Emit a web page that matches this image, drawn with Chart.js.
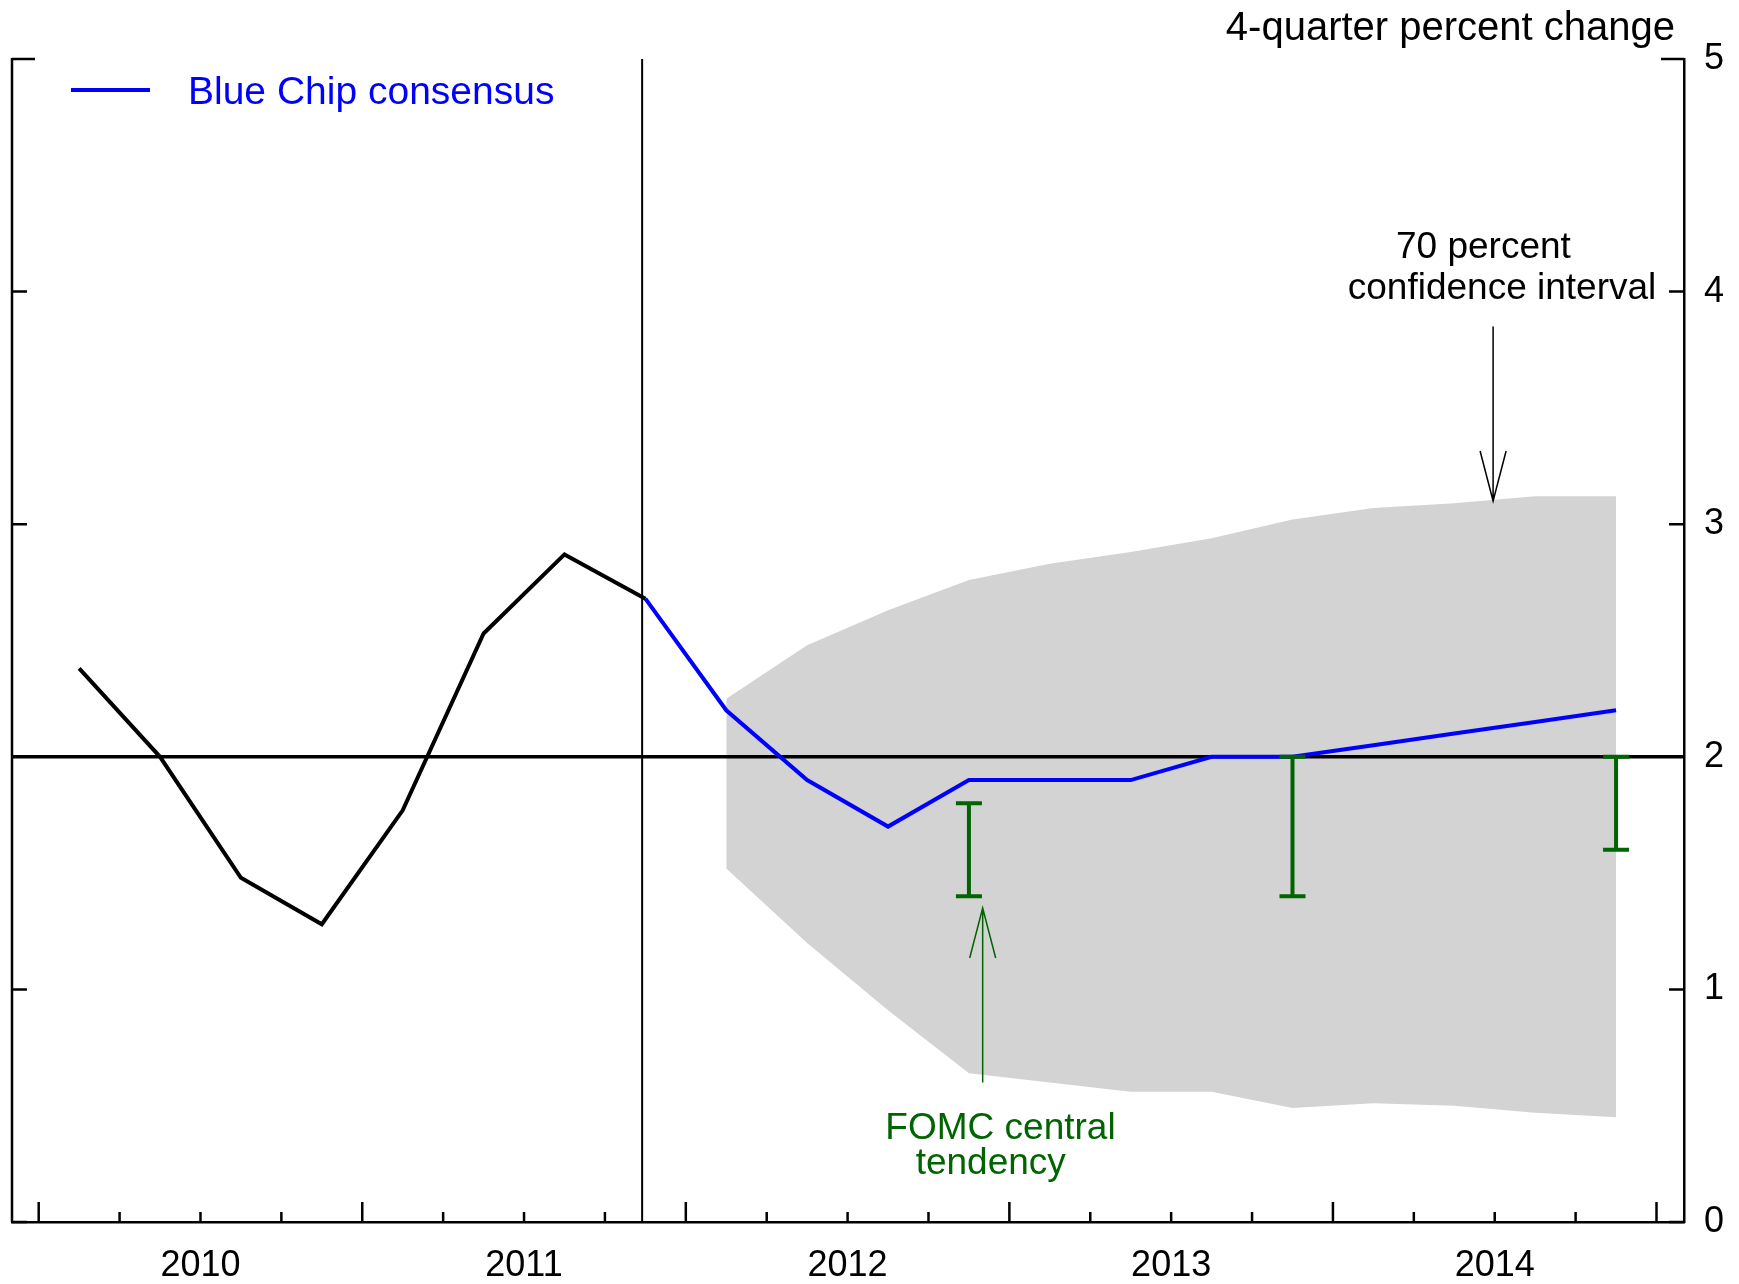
<!DOCTYPE html>
<html>
<head>
<meta charset="utf-8">
<script src="https://cdn.jsdelivr.net/npm/chart.js@4.4.0/dist/chart.umd.min.js"></script>
<style>
  html, body { margin: 0; padding: 0; background: #fff; }
</style>
</head>
<body>
<canvas id="chart" width="1739" height="1284"></canvas>
<script>
// x is a quarter index: 0 = 2010Q1 ... 19 = 2014Q4
const years = ['2010', '2011', '2012', '2013', '2014']
const yearMid = [1.5, 5.5, 9.5, 13.5, 17.5]
const yTicks = [0, 1, 2, 3, 4, 5]
const xMin = -0.83
const xMax = 19.84

const actualQ = [0, 1, 2, 3, 4, 5, 6, 7]
const actual = [2.38, 2.0, 1.48, 1.28, 1.77, 2.53, 2.87, 2.68]

const blueChipQ = [7, 8, 9, 10, 11, 12, 13, 14, 15, 16, 17, 18, 19]
const blueChip = [2.68, 2.20, 1.90, 1.70, 1.90, 1.90, 1.90, 2.0, 2.0, 2.05, 2.10, 2.15, 2.20]

const bandQ = [8, 9, 10, 11, 12, 13, 14, 15, 16, 17, 18, 19]
const bandHigh = [2.25, 2.48, 2.63, 2.76, 2.83, 2.88, 2.94, 3.02, 3.07, 3.09, 3.12, 3.12]
const bandLow = [1.52, 1.20, 0.91, 0.64, 0.60, 0.56, 0.56, 0.49, 0.51, 0.50, 0.47, 0.45]

const fomcQ = [11, 15, 19]
const fomcLow = [1.4, 1.4, 1.6]
const fomcHigh = [1.8, 2.0, 2.0]

const refLevel = 2
const breakQ = 6.96

const FONT = '"Liberation Sans", Arial, sans-serif'
const GREEN = '#006400'
const BLUE = '#0000ff'

const pts = (xs, ys) => xs.map((q, i) => ({x: q, y: ys[i]}))

function arrow(ctx, x0, y0, x1, y1) {
  const dir = y1 > y0 ? 1 : -1
  ctx.beginPath()
  ctx.moveTo(x0, y0); ctx.lineTo(x1, y1)
  ctx.moveTo(x1 - 13, y1 - dir * 50); ctx.lineTo(x1, y1); ctx.lineTo(x1 + 13, y1 - dir * 50)
  ctx.stroke()
}

const frame = {
  id: 'frame',
  afterDatasetsDraw(chart) {
    const {ctx, chartArea: a, scales: {x, y}} = chart
    ctx.save()
    ctx.strokeStyle = '#000'
    ctx.lineWidth = 2.5
    ctx.beginPath()
    ctx.moveTo(a.left, a.top - 1); ctx.lineTo(a.left, a.bottom)
    ctx.stroke()

    // inward ticks on both y sides
    yTicks.forEach(v => {
      const py = y.getPixelForValue(v)
      const len = v === 5 ? 23 : 15
      ctx.beginPath()
      ctx.moveTo(a.left, py); ctx.lineTo(a.left + len, py)
      ctx.moveTo(a.right, py); ctx.lineTo(a.right - len, py)
      ctx.stroke()
    })

    // quarter ticks, long at year boundaries
    for (let k = 0; k <= 20; k++) {
      const px = x.getPixelForValue(k - 0.5)
      const len = k % 4 === 0 ? 20 : 10
      ctx.beginPath()
      ctx.moveTo(px, a.bottom); ctx.lineTo(px, a.bottom - len)
      ctx.stroke()
    }

    // FOMC central tendency bars
    ctx.strokeStyle = GREEN
    ctx.lineWidth = 4
    fomcQ.forEach((q, i) => {
      const px = x.getPixelForValue(q)
      const lo = y.getPixelForValue(fomcLow[i])
      const hi = y.getPixelForValue(fomcHigh[i])
      ctx.beginPath()
      ctx.moveTo(px, lo); ctx.lineTo(px, hi)
      ctx.moveTo(px - 13, lo); ctx.lineTo(px + 13, lo)
      ctx.moveTo(px - 13, hi); ctx.lineTo(px + 13, hi)
      ctx.stroke()
    })

    // annotations
    ctx.lineWidth = 1.5
    ctx.strokeStyle = GREEN
    arrow(ctx, x.getPixelForValue(11.17), y.getPixelForValue(0.60), x.getPixelForValue(11.17), y.getPixelForValue(1.35))
    ctx.strokeStyle = '#000'
    arrow(ctx, x.getPixelForValue(17.48), y.getPixelForValue(3.85), x.getPixelForValue(17.48), y.getPixelForValue(3.10))

    ctx.textAlign = 'center'
    ctx.textBaseline = 'middle'
    ctx.font = '37px ' + FONT
    ctx.fillStyle = '#000'
    ctx.fillText('70 percent', x.getPixelForValue(17.36), y.getPixelForValue(4.19))
    ctx.fillText('confidence interval', x.getPixelForValue(17.59), y.getPixelForValue(4.01))
    ctx.fillStyle = GREEN
    ctx.fillText('FOMC central', x.getPixelForValue(11.39), y.getPixelForValue(0.40))
    ctx.fillText('tendency', x.getPixelForValue(11.27), y.getPixelForValue(0.25))

    // unit title
    ctx.fillStyle = '#000'
    ctx.font = '40px ' + FONT
    ctx.textAlign = 'right'
    ctx.textBaseline = 'alphabetic'
    ctx.fillText('4-quarter percent change', a.right - 9, a.top - 19)

    // legend
    ctx.strokeStyle = BLUE
    ctx.lineWidth = 4
    ctx.beginPath()
    ctx.moveTo(a.left + 59, a.top + 31); ctx.lineTo(a.left + 138, a.top + 31)
    ctx.stroke()
    ctx.fillStyle = BLUE
    ctx.font = '39px ' + FONT
    ctx.textAlign = 'left'
    ctx.textBaseline = 'middle'
    ctx.fillText('Blue Chip consensus', a.left + 176, a.top + 34)
    ctx.restore()
  }
}

new Chart(document.getElementById('chart'), {
  type: 'line',
  data: {
    datasets: [
      {data: pts(bandQ, bandHigh), fill: '+1', backgroundColor: '#d3d3d3', borderColor: 'rgba(0,0,0,0)', borderWidth: 0, pointRadius: 0, order: 10},
      {data: pts(bandQ, bandLow), fill: false, borderColor: 'rgba(0,0,0,0)', borderWidth: 0, pointRadius: 0, order: 11},
      {data: [{x: xMin, y: refLevel}, {x: xMax, y: refLevel}], borderColor: '#000', borderWidth: 3.5, pointRadius: 0, order: 5},
      {data: [{x: breakQ, y: 0}, {x: breakQ, y: 5}], borderColor: '#000', borderWidth: 2, pointRadius: 0, order: 4},
      {data: pts(actualQ, actual), borderColor: '#000', borderWidth: 4, pointRadius: 0, order: 2},
      {data: pts(blueChipQ, blueChip), borderColor: BLUE, borderWidth: 4, pointRadius: 0, order: 1}
    ]
  },
  options: {
    responsive: false,
    devicePixelRatio: 1,
    animation: false,
    layout: {padding: {left: 12, top: 59, right: 0, bottom: 0}},
    plugins: {legend: {display: false}, tooltip: {enabled: false}},
    scales: {
      x: {
        type: 'linear', min: xMin, max: xMax,
        grid: {display: false, drawTicks: false},
        border: {display: true, color: '#000', width: 2.5},
        afterBuildTicks: s => { s.ticks = yearMid.map(v => ({value: v})) },
        ticks: {
          autoSkip: false, maxRotation: 0, padding: 22, color: '#000',
          font: {family: FONT, size: 36},
          callback: v => years[yearMid.indexOf(v)]
        },
        afterFit: s => { s.height = 62 }
      },
      y: {
        type: 'linear', position: 'right', min: 0, max: 5,
        grid: {display: false, drawTicks: false},
        border: {display: true, color: '#000', width: 2.5},
        afterBuildTicks: s => { s.ticks = yTicks.map(v => ({value: v})) },
        ticks: {padding: 20, color: '#000', font: {family: FONT, size: 36}},
        afterFit: s => { s.width = 55 }
      }
    }
  },
  plugins: [frame]
})
</script>
</body>
</html>
